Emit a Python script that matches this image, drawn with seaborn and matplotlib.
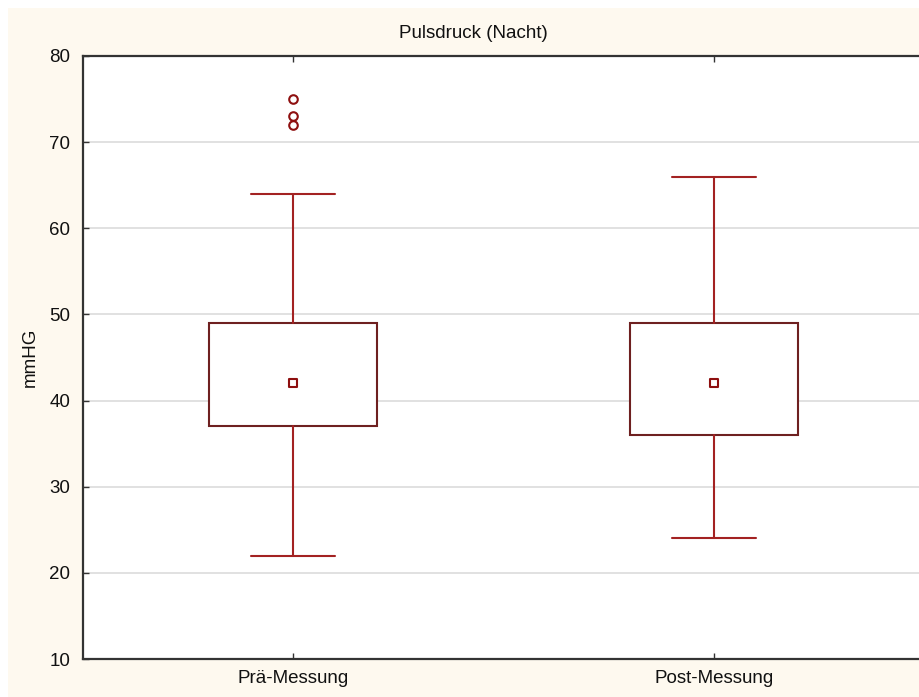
import matplotlib
matplotlib.use("Agg")
import matplotlib.pyplot as plt
from matplotlib.patches import Rectangle
import pandas as pd
import seaborn as sns

# Box summary per measurement (mmHG)
groups = ["Prä-Messung", "Post-Messung"]
medians = [42, 42]
q1 = [37, 36]
q3 = [49, 49]
whisker_lo = [22, 24]
whisker_hi = [64, 66]
outliers = [[72, 73, 75], []]

y_ticks = [10, 20, 30, 40, 50, 60, 70, 80]

sns.set_theme(style="white")
plt.rcParams["font.family"] = ["Liberation Sans", "DejaVu Sans"]

W, H = 919, 697
fig = plt.figure(figsize=(W / 100, H / 100), dpi=100)
fig.patch.set_facecolor("white")
# cream panel behind the chart
fig.patches.append(Rectangle((8 / W, 0), 1, 1 - 8 / H, transform=fig.transFigure,
                             facecolor="#fef9ef", edgecolor="none", zorder=-5))

ax = fig.add_axes([83 / W, 1 - 659 / H, 841 / W, 603 / H])
ax.set_zorder(1)
ax.set_facecolor("white")

box_col = "#6e2020"
whisk_col = "#a32222"
mark_col = "#8e0f0f"

stats = []
for i, g in enumerate(groups):
    stats.append(dict(label=g, med=medians[i], q1=q1[i], q3=q3[i],
                      whislo=whisker_lo[i], whishi=whisker_hi[i], fliers=[]))

ax.grid(axis="y", color="#dcdcdc", linewidth=1.2, zorder=0)
ax.set_axisbelow(True)

ax.bxp(stats, positions=[0, 1], widths=0.4, showfliers=False, patch_artist=True,
       boxprops=dict(facecolor="white", edgecolor=box_col, linewidth=1.5),
       whiskerprops=dict(color=whisk_col, linewidth=1.5),
       capprops=dict(color=whisk_col, linewidth=1.5),
       medianprops=dict(linewidth=0),
       manage_ticks=False, zorder=2)

med_df = pd.DataFrame({"x": [0, 1], "y": medians})
sns.scatterplot(data=med_df, x="x", y="y", marker="s", s=38, facecolor="white",
                edgecolor=mark_col, linewidth=1.5, ax=ax, zorder=3)

out_x, out_y = [], []
for i, vals in enumerate(outliers):
    for v in vals:
        out_x.append(i)
        out_y.append(v)
out_df = pd.DataFrame({"x": out_x, "y": out_y})
sns.scatterplot(data=out_df, x="x", y="y", marker="o", s=38, facecolor="white",
                edgecolor=mark_col, linewidth=1.5, ax=ax, zorder=3)

ax.set_xlim(-0.5, 1.5)
ax.set_ylim(10, 80)
ax.set_xticks([0, 1])
ax.set_xticklabels(groups)
ax.set_yticks(y_ticks)
ax.set_xlabel("")
ax.set_ylabel("mmHG", fontsize=13.5, color="#111111", labelpad=8)

ax.tick_params(axis="both", direction="in", length=4, width=1, color="#333333",
               labelsize=13.5, labelcolor="#111111")
ax.tick_params(axis="x", top=True, bottom=True, pad=8)
ax.tick_params(axis="y", left=True, right=False, pad=9)

for side in ["left", "top", "bottom"]:
    ax.spines[side].set_visible(True)
    ax.spines[side].set_color("#333333")
    ax.spines[side].set_linewidth(1.6)
ax.spines["right"].set_visible(False)

fig.text(473 / W, 1 - 33 / H, "Pulsdruck (Nacht)", ha="center", va="center",
         fontsize=13.5, color="#111111")

fig.savefig("out.png", dpi=100, facecolor=fig.get_facecolor())
